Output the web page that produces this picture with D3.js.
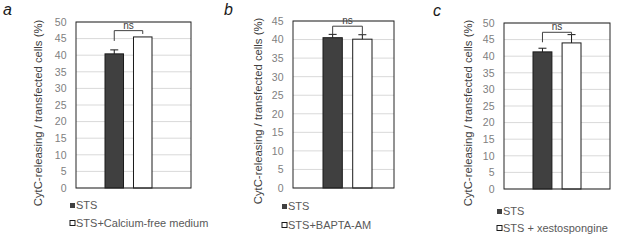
<!DOCTYPE html>
<html>
<head>
<meta charset="utf-8">
<script src="https://cdn.jsdelivr.net/npm/d3@7"></script>
<style>
  body { margin: 0; background: #fff; }
  svg { display: block; font-family: "Liberation Sans", Arial, sans-serif; }
  .tick text { fill: #808080; font-size: 10.5px; }
</style>
</head>
<body>
<svg id="chart" width="617" height="240"></svg>
<script>
// data, one entry per panel
const panelLetters = ['a', 'b', 'c'];
const seriesNames = ['STS', 'treated'];
const legendLabels = [
    ['STS', 'STS+Calcium-free medium'],
    ['STS', 'STS+BAPTA-AM'],
    ['STS', 'STS + xestospongine']
];
const stsValues = [40.4, 40.5, 41.3];
const stsErrors = [1.2, 0.9, 1.1];
const treatedValues = [45.5, 40.1, 44.0];
const treatedErrors = [0, 1.2, 2.5];
const yMaxValues = [50, 45, 50];
const yTickStep = 5;
// ns bracket: top, left end, right end (in data units)
const bracketTop = [47.4, 43.6, 47.2];
const bracketLeftEnd = [44.3, 41.4, 44.2];
const bracketRightEnd = [46.4, 41.3, 46.5];
const yTitle = 'CytC-releasing / transfected cells (%)';

// layout for each panel
const layouts = [
    {frame: [76, 191, 22, 188], bars: [105, 152], title: [38, 113], letter: [3, 15], legend: [70, 205.5, 223]},
    {frame: [293, 394, 21, 188], bars: [323, 372], title: [258, 111], letter: [224, 15], legend: [282, 206.5, 225]},
    {frame: [504, 610, 23, 189], bars: [533, 581], title: [468, 113], letter: [433, 16], legend: [497, 211.5, 228]}
];
const barFill = ['#404040', '#ffffff'];

const svg = d3.select('#chart');

panelLetters.forEach((letter, i) => {
    const L = layouts[i];
    const [x0, x1, yTop, yBottom] = L.frame;
    const g = svg.append('g');

    const y = d3.scaleLinear()
        .domain([0, yMaxValues[i]])
        .range([yBottom, yTop]);

    const x = d3.scaleBand()
        .domain(seriesNames)
        .range(L.bars)
        .paddingInner(0.35)
        .paddingOuter(0);

    const ticks = d3.range(0, yMaxValues[i] + 0.1, yTickStep);

    // gridlines
    g.selectAll('.grid')
        .data(ticks)
        .join('line')
        .attr('x1', x0).attr('x2', x1)
        .attr('y1', d => y(d)).attr('y2', d => y(d))
        .attr('stroke', '#d9d9d9')
        .attr('stroke-width', 1);

    // y axis labels
    const yAxis = d3.axisLeft(y).tickValues(ticks).tickSize(0).tickPadding(9.5);
    g.append('g')
        .attr('transform', `translate(${x0},0)`)
        .call(yAxis)
        .call(a => a.select('.domain').remove());

    const values = [stsValues[i], treatedValues[i]];
    const errors = [stsErrors[i], treatedErrors[i]];

    // bars
    g.selectAll('.bar')
        .data(seriesNames)
        .join('rect')
        .attr('x', d => x(d))
        .attr('width', x.bandwidth())
        .attr('y', (d, j) => y(values[j]))
        .attr('height', (d, j) => y(0) - y(values[j]))
        .attr('fill', (d, j) => barFill[j])
        .attr('stroke', '#1a1a1a')
        .attr('stroke-width', 1);

    // error bars (plus direction only)
    seriesNames.forEach((s, j) => {
        if (!errors[j]) return;
        const cx = x(s) + x.bandwidth() / 2;
        const yt = y(values[j] + errors[j]);
        g.append('line')
            .attr('x1', cx).attr('x2', cx)
            .attr('y1', y(values[j])).attr('y2', yt)
            .attr('stroke', '#1a1a1a');
        g.append('line')
            .attr('x1', cx - 4).attr('x2', cx + 4)
            .attr('y1', yt).attr('y2', yt)
            .attr('stroke', '#1a1a1a');
    });

    // plot frame
    g.append('rect')
        .attr('x', x0).attr('y', yTop)
        .attr('width', x1 - x0).attr('height', yBottom - yTop)
        .attr('fill', 'none')
        .attr('stroke', '#262626')
        .attr('stroke-width', 1);

    // ns bracket
    const bl = x(seriesNames[0]) + x.bandwidth() / 2;
    const br = x(seriesNames[1]) + x.bandwidth() / 2;
    g.append('path')
        .attr('d', `M${bl},${y(bracketLeftEnd[i])}V${y(bracketTop[i])}H${br}V${y(bracketRightEnd[i])}`)
        .attr('fill', 'none')
        .attr('stroke', '#404040')
        .attr('stroke-width', 1);
    g.append('text')
        .attr('x', (bl + br) / 2)
        .attr('y', y(bracketTop[i]) - 2)
        .attr('text-anchor', 'middle')
        .attr('fill', '#404040')
        .style('font-size', '10px')
        .text('ns');

    // y axis title
    g.append('text')
        .attr('transform', `translate(${L.title[0]},${L.title[1]}) rotate(-90)`)
        .attr('text-anchor', 'middle')
        .attr('dy', '0.35em')
        .attr('fill', '#404040')
        .style('font-size', '11.3px')
        .text(yTitle);

    // panel letter
    g.append('text')
        .attr('x', L.letter[0])
        .attr('y', L.letter[1])
        .attr('fill', '#1a1a1a')
        .style('font-size', '16px')
        .style('font-style', 'italic')
        .text(letter);

    // legend
    legendLabels[i].forEach((label, j) => {
        const ly = L.legend[1 + j];
        g.append('rect')
            .attr('x', L.legend[0]).attr('y', ly - 2.5)
            .attr('width', 5).attr('height', 5)
            .attr('fill', barFill[j])
            .attr('stroke', '#1a1a1a')
            .attr('stroke-width', j === 0 ? 0 : 1);
        g.append('text')
            .attr('x', L.legend[0] + 6)
            .attr('y', ly)
            .attr('dy', '0.35em')
            .attr('fill', '#595959')
            .style('font-size', '11px')
            .text(label);
    });
});
</script>
</body>
</html>
